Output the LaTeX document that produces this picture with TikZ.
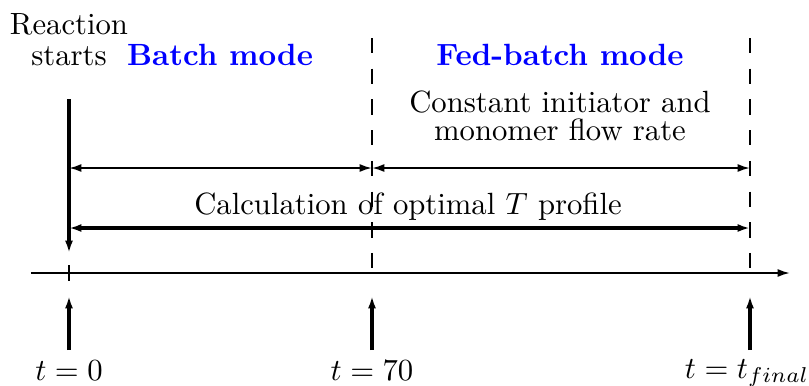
\documentclass[tikz,border=0pt]{standalone}
\usetikzlibrary{arrows.meta}
\begin{document}
\begin{tikzpicture}[x=0.3257pt,y=-0.3257pt,
  thinln/.style={line width=0.65pt},
  thickln/.style={line width=1pt},
  tip/.style={-{Latex[length=4pt,width=2.6pt]}},
  dtip/.style={{Latex[length=4pt,width=2.6pt]}-{Latex[length=4pt,width=2.6pt]}},
  dashln/.style={line width=0.65pt,dash pattern=on 5pt off 5pt},
  mode/.style={font=\bfseries, text=blue, anchor=base, inner sep=0pt},
  lbl/.style={anchor=base, inner sep=0pt, align=center},
  tlbl/.style={anchor=base, inner sep=0pt}]
\useasboundingbox (0,0) rectangle (809,385);
% texts
\node[lbl, font=\fontsize{10}{9.8}\selectfont] (react) at (69,65) {Reaction\\starts};
\node[mode] (batch) at (220,65) {Batch mode};
\node[mode] (fed) at (560,65) {Fed-batch mode};
\node[lbl, font=\fontsize{10}{9.1}\selectfont] (const) at (560,140) {Constant initiator and\\monomer flow rate};
\node[lbl] (calc) at (408,214) {Calculation of optimal $T$ profile};
\node[tlbl] (t0) at (69,380) {$t=0$};
\node[tlbl] (t70) at (372,380) {$t=70$};
\node[tlbl] (tf) at (747,378) {$t=t_{final}$};
% coordinates
\coordinate (s0) at (69,99);
\coordinate (s1) at (69,253);
\coordinate (d1a) at (372,38);
\coordinate (d1b) at (372,282);
\coordinate (d2a) at (750,38);
\coordinate (d2b) at (750,282);
\coordinate (a1l) at (69,168);
\coordinate (a1m) at (372,168);
\coordinate (a1r) at (750,168);
\coordinate (a2l) at (69,228);
\coordinate (a2r) at (750,228);
\coordinate (axl) at (31,273);
\coordinate (axr) at (790,273);
\coordinate (k0a) at (69,265);
\coordinate (k0b) at (69,281);
\coordinate (u0) at (69,296);
\coordinate (u1) at (372,296);
\coordinate (u2) at (750,296);
\coordinate (b0) at (69,350);
\coordinate (b1) at (372,350);
\coordinate (b2) at (750,350);
% lines
\draw[dashln] (d1a) -- (d1b);
\draw[dashln] (d2a) -- (d2b);
\draw[thickln,tip] (s0) -- (s1);
\draw[thinln,dtip] (a1l) -- (a1m);
\draw[thinln,dtip] (a1m) -- (a1r);
\draw[thickln,dtip] (a2l) -- (a2r);
\draw[thinln,tip] (axl) -- (axr);
\draw[thinln] (k0a) -- (k0b);
\draw[thickln,tip] (b0) -- (u0);
\draw[thickln,tip] (b1) -- (u1);
\draw[thickln,tip] (b2) -- (u2);
\end{tikzpicture}
\end{document}
